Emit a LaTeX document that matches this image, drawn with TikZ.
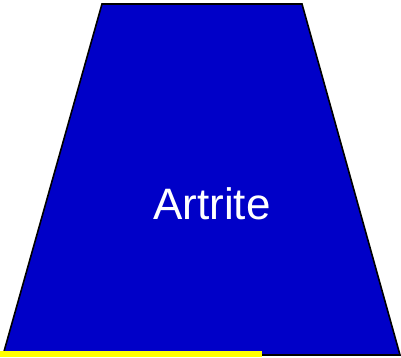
\documentclass[tikz,border=0pt]{standalone}
\usepackage{fontspec}
\setmainfont{Liberation Sans}
\definecolor{trapblue}{RGB}{0,0,200}
\definecolor{baryellow}{RGB}{255,255,0}

\begin{document}
\begin{tikzpicture}[x=1pt,y=-1pt,
  trap/.style={draw=black, fill=trapblue, line width=1.6pt, line join=miter},
  lbl/.style={text=white, font=\fontsize{44}{50}\selectfont, inner sep=0pt, anchor=base}]
\useasboundingbox (0,0) rectangle (401,357);
\draw[trap] (102,4) -- (302,4) -- (400,355) -- (3,355) -- cycle;
\fill[baryellow] (0,351) rectangle (262,357);
\node[lbl] (name) at (212,219) {Artrite};
\end{tikzpicture}
\end{document}
